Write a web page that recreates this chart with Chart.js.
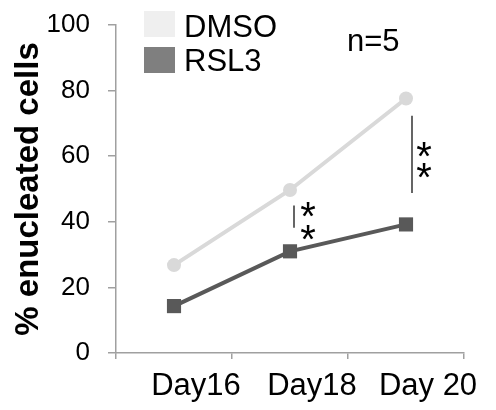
<!DOCTYPE html>
<html>
<head>
<meta charset="utf-8">
<script src="https://cdn.jsdelivr.net/npm/chart.js@4/dist/chart.umd.min.js"></script>
<style>
  html, body { margin: 0; padding: 0; background: #fff; }
  #wrap { width: 496px; height: 410px; }
</style>
</head>
<body>
<div id="wrap"><canvas id="mycanvas"></canvas></div>
<script>
var days = ["Day16", "Day18", "Day 20"];
var DMSO = [26.8, 49.7, 77.6];
var RSL3 = [14.3, 31.0, 39.2];
var yTicks = [0, 20, 40, 60, 80, 100];

var FONT = "'Liberation Sans', Arial, sans-serif";

// legend, n=5 and the ** marks
var extras = {
  id: "extras",
  afterDraw: function(chart) {
    var ctx = chart.ctx;
    var x = chart.scales.x, y = chart.scales.y;
    ctx.save();
    // legend
    ctx.fillStyle = "#efefef";
    ctx.fillRect(144, 11, 31, 26);
    ctx.fillStyle = "#7f7f7f";
    ctx.fillRect(144, 47, 31, 26);
    ctx.fillStyle = "#000";
    ctx.font = "31px " + FONT;
    ctx.textBaseline = "middle";
    ctx.fillText("DMSO", 184, 28);
    ctx.fillText("RSL3", 184, 62);
    ctx.fillText("n=5", 347, 42);

    // significance bars
    ctx.strokeStyle = "#000";
    ctx.lineWidth = 1.2;
    var x18 = x.getPixelForValue(1) + 4;
    var x20 = x.getPixelForValue(2) + 6;
    ctx.beginPath();
    ctx.moveTo(x18, y.getPixelForValue(45));
    ctx.lineTo(x18, y.getPixelForValue(38.2));
    ctx.moveTo(x20, y.getPixelForValue(72.3));
    ctx.lineTo(x20, y.getPixelForValue(48.8));
    ctx.stroke();
    ctx.font = "40px " + FONT;
    ctx.textAlign = "center";
    ctx.textBaseline = "alphabetic";
    ctx.fillText("*", x18 + 14, y.getPixelForValue(44.4) + 23);
    ctx.fillText("*", x18 + 14, y.getPixelForValue(37.4) + 23);
    ctx.fillText("*", x20 + 12, y.getPixelForValue(62.8) + 23);
    ctx.fillText("*", x20 + 12, y.getPixelForValue(56.4) + 23);
    ctx.restore();
  }
};

var chartdata = {
  labels: days,
  datasets: [
    {
      label: "DMSO",
      data: DMSO,
      borderColor: "#d9d9d9",
      backgroundColor: "#d9d9d9",
      borderWidth: 4,
      pointStyle: "circle",
      pointRadius: 7,
      pointBorderWidth: 0,
      tension: 0
    },
    {
      label: "RSL3",
      data: RSL3,
      borderColor: "#595959",
      backgroundColor: "#595959",
      borderWidth: 4,
      pointStyle: "rect",
      pointRadius: 10,
      pointBorderWidth: 0,
      tension: 0
    }
  ]
};

new Chart(document.getElementById("mycanvas"), {
  type: "line",
  data: chartdata,
  options: {
    responsive: true,
    maintainAspectRatio: false,
    animation: false,
    layout: { padding: { top: 25, right: 32, left: 0, bottom: 0 } },
    plugins: { legend: { display: false }, tooltip: { enabled: false } },
    scales: {
      x: {
        offset: true,
        grid: { offset: true, drawOnChartArea: false, color: "#a0a0a0", tickLength: 6, lineWidth: 1.5 },
        border: { color: "#a0a0a0", width: 1.5 },
        ticks: { color: "#000", font: { family: FONT, size: 31 }, padding: 9, labelOffset: 22, maxRotation: 0, autoSkip: false },
        afterFit: function(s) { s.height = 57; }
      },
      y: {
        min: 0,
        max: 100,
        afterBuildTicks: function(s) { s.ticks = yTicks.map(function(v) { return { value: v }; }); },
        grid: { drawOnChartArea: false, color: "#a0a0a0", tickLength: 8, lineWidth: 1.5 },
        border: { color: "#a0a0a0", width: 1.5 },
        ticks: { color: "#000", font: { family: FONT, size: 26, lineHeight: 0.5 }, padding: 18 },
        title: { display: true, text: "% enucleated cells", color: "#000", font: { family: FONT, size: 33, weight: "bold" }, padding: { top: 9, bottom: 0 } },
        afterFit: function(s) { s.width = 116; }
      }
    }
  },
  plugins: [extras]
});
</script>
</body>
</html>
